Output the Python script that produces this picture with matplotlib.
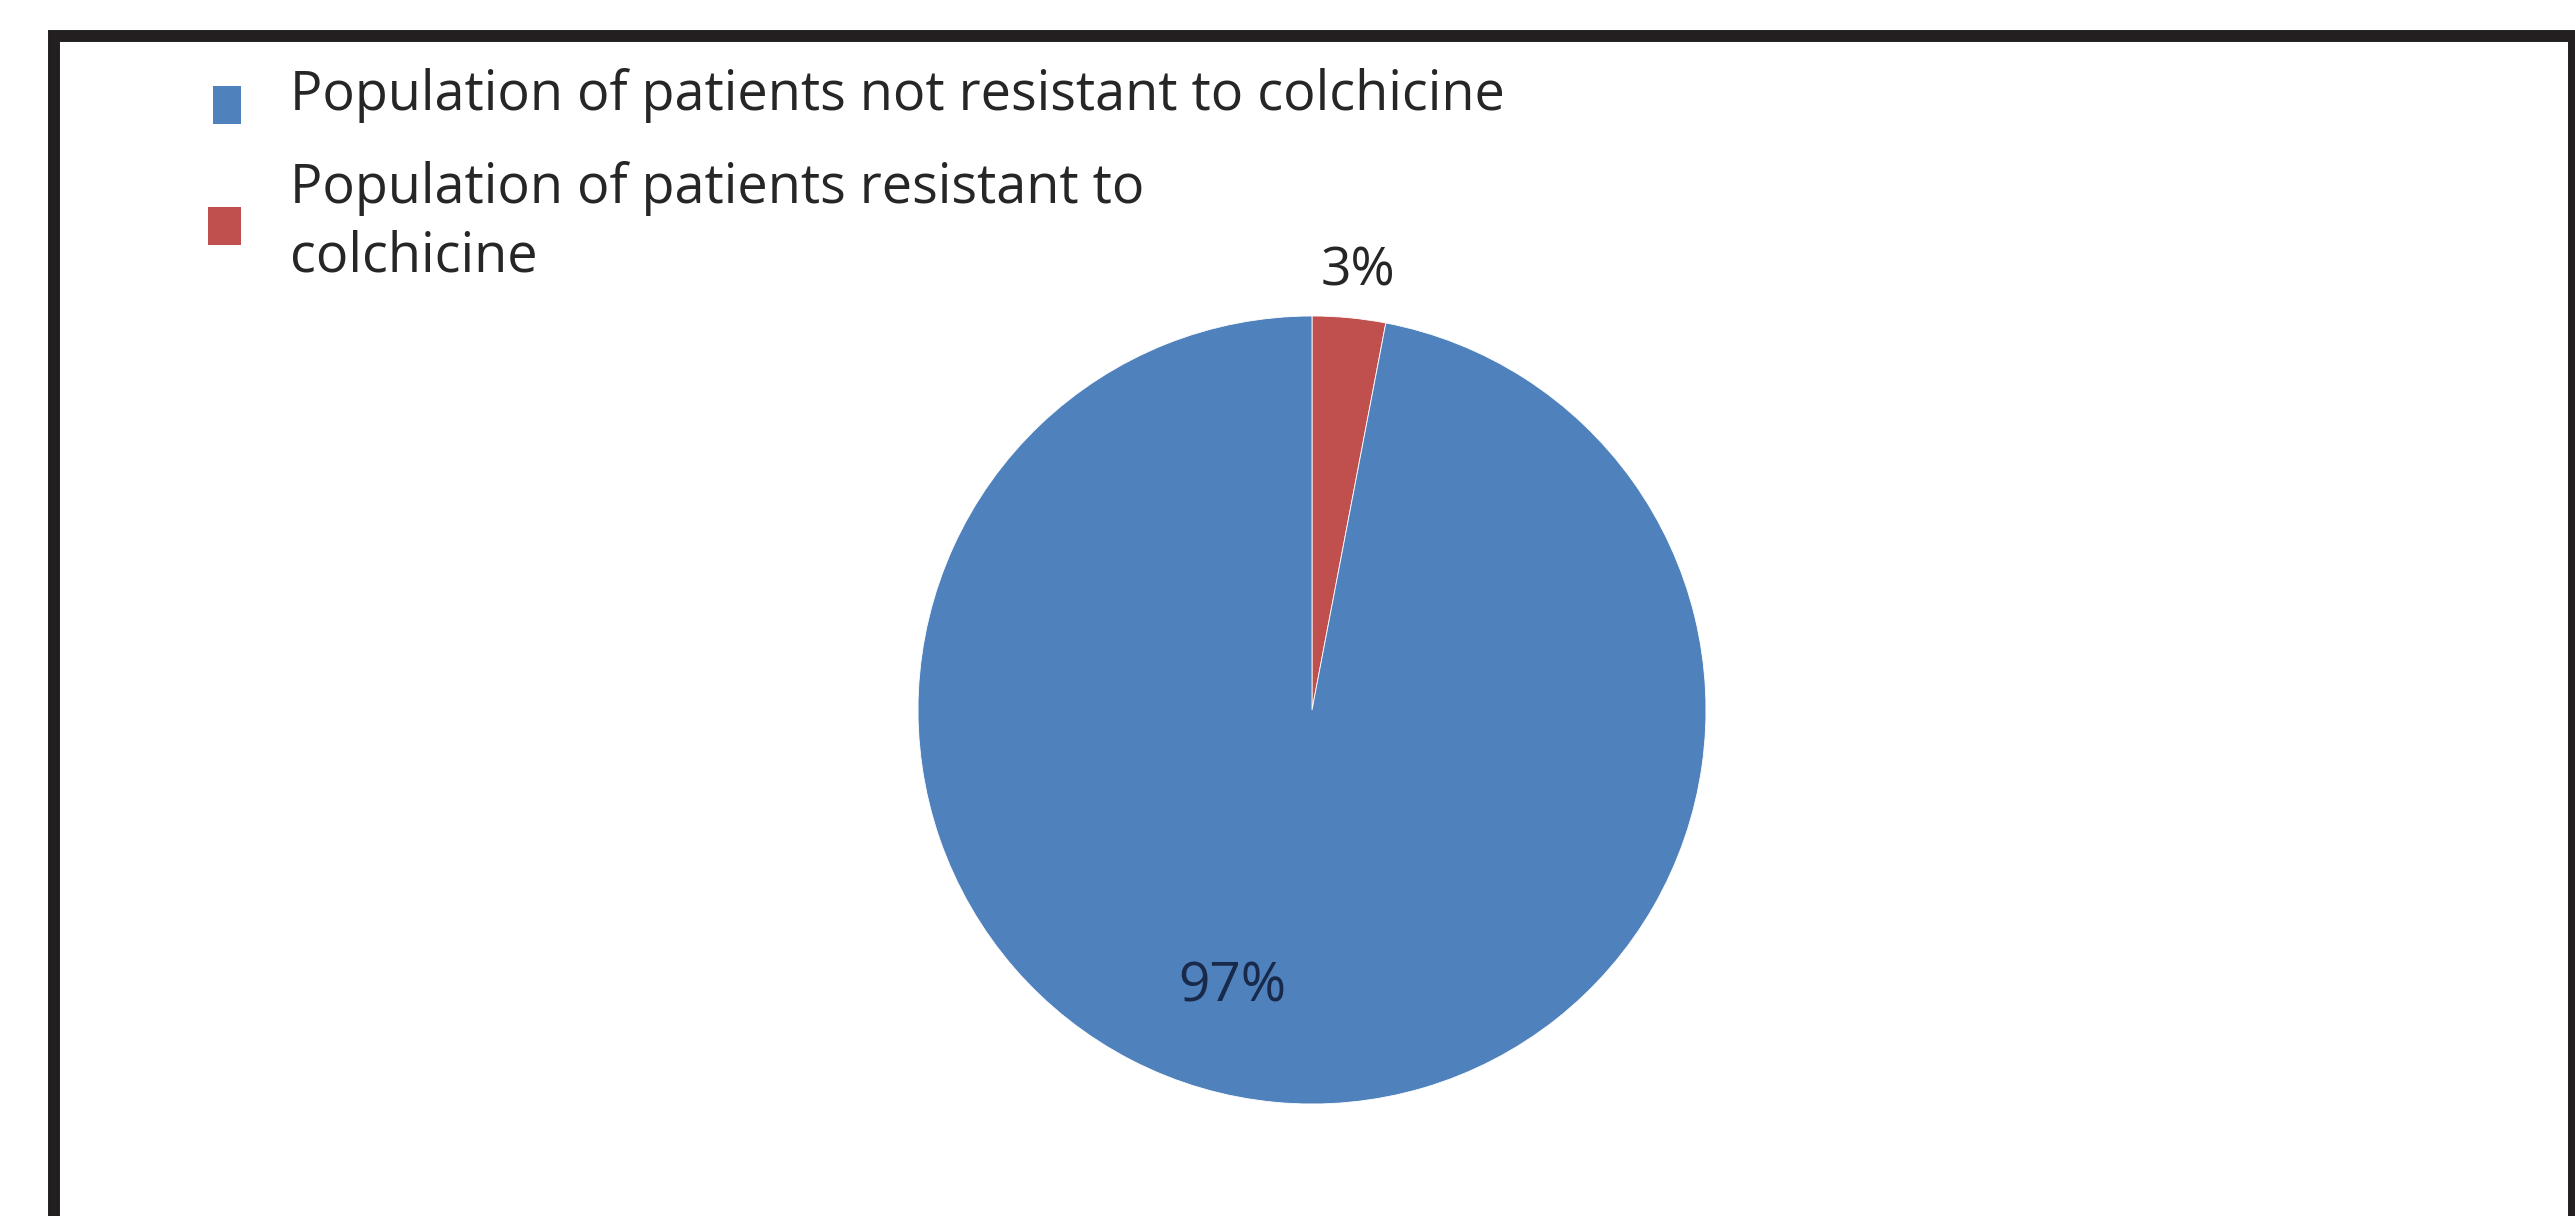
import matplotlib.pyplot as plt
from matplotlib.patches import Rectangle

# colchicine resistance share
labels = ['Population of patients not resistant to colchicine',
          'Population of patients resistant to\ncolchicine']
shares = [97, 3]
colors = ['#4F81BD', '#C0504D']

W, H = 2575, 1216
fig = plt.figure(figsize=(W / 100, H / 100), dpi=100)
plt.rcParams['font.family'] = ['Open Sans', 'DejaVu Sans']

# pie axes: centre (1312, 710) px, radius 394 px
cx, cy, r = 1312, 710, 394
ax = fig.add_axes([(cx - r) / W, (H - cy - r) / H, 2 * r / W, 2 * r / H])
# red slice first, clockwise from 12 o'clock
wedges, texts = ax.pie(shares[::-1], colors=colors[::-1], startangle=90, counterclock=False,
                       wedgeprops=dict(edgecolor='white', linewidth=0.6), radius=1)
ax.set_xlim(-1, 1)
ax.set_ylim(-1, 1)
ax.axis('off')

# percentage labels
ax.text(0.117, 1.112, f'{shares[1]}%', ha='center', va='center', fontsize=38.5, color='#262626')
ax.text(-0.201, -0.703, f'{shares[0]}%', ha='center', va='center', fontsize=39.5, color='#18294a')

# legend drawn by hand (square + text)
def px(x, y):
    return x / W, 1 - y / H

sq = [(213, 86, 28, 38), (208, 207, 33, 38)]
baselines = [110, 203]
for (x, y, w, h), c in zip(sq, colors):
    fig.patches.append(Rectangle(px(x, y + h), w / W, h / H, transform=fig.transFigure,
                                 facecolor=c, edgecolor='none'))
for lab, b in zip(labels, baselines):
    lines = lab.split('\n')
    for i, line in enumerate(lines):
        fig.text(*px(290, b + i * 69), line, fontsize=38.8, color='#262626', va='baseline', ha='left')

# outer frame, open at the bottom edge
fig.patches.append(Rectangle(px(54, 1300), (2574 - 54) / W, (1300 - 35.5) / H,
                             transform=fig.transFigure, fill=False, edgecolor='#231f20',
                             linewidth=8.6, clip_on=False))

fig.savefig('out.png', dpi=100, facecolor='white')
